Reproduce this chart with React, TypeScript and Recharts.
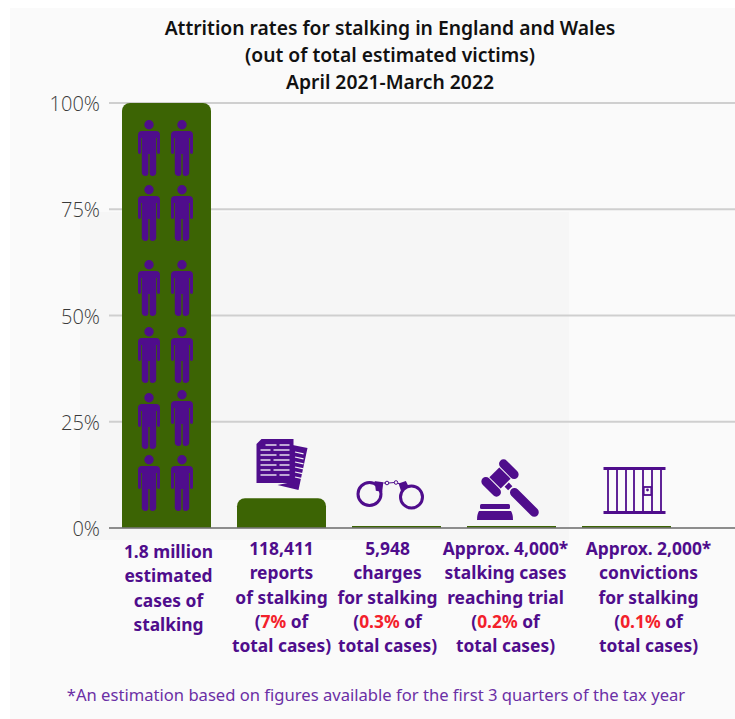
import { BarChart, Bar, XAxis, YAxis, CartesianGrid, Rectangle } from "recharts";

const CATEGORIES = ["Estimated cases", "Reports", "Charges", "Trials", "Convictions"];
const SHARE_OF_CASES = [100, 7, 0.3, 0.2, 0.1];
const Y_TICKS = [0, 25, 50, 75, 100];

const TITLE_LINES = [
  "Attrition rates for stalking in England and Wales",
  "(out of total estimated victims)",
  "April 2021-March 2022",
];

const TICK_LINES = [
  ["1.8 million", "estimated", "cases of", "stalking"],
  ["118,411", "reports", "of stalking", "(7% of", "total cases)"],
  ["5,948", "charges", "for stalking", "(0.3% of", "total cases)"],
  ["Approx. 4,000*", "stalking cases", "reaching trial", "(0.2% of", "total cases)"],
  ["Approx. 2,000*", "convictions", "for stalking", "(0.1% of", "total cases)"],
];

const FOOTNOTE = "*An estimation based on figures available for the first 3 quarters of the tax year";

const GREEN = "#3c6404";
const PURPLE = "#4f0d8c";
const FONT = '"Noto Sans", sans-serif';

// label placement under each bar: horizontal shift from the bar centre, first line y
const TICK_SHIFT = [2, 0, -9, -6, 22];
const TICK_TOP = [552, 549, 549, 549, 549];

// pictogram rows/columns on the tall bar, offsets from the bar's top-left corner
const PERSON_ROWS = [
  [17, 82, 157, 224, 290, 352],
  [17, 82, 157, 224, 287, 352],
];
const PERSON_COLS = [27, 60];

function Person({ x, y }: { x: number; y: number }) {
  return (
    <g transform={`translate(${x},${y})`} fill={PURPLE}>
      <circle cx={0} cy={4.7} r={4.7} />
      <path d="M-7,11 Q-11,11 -11,15 L-11,32 Q-11,34 -9.5,34 Q-8,34 -8,32 L-8,18 L-7.2,18 L-7.2,53 Q-6.6,56 -3.5,56 Q-0.7,56 -0.7,53 L-0.7,34 L0.7,34 L0.7,53 Q0.7,56 3.5,56 Q6.6,56 7.2,53 L7.2,18 L8,18 L8,32 Q8,34 9.5,34 Q11,34 11,32 L11,15 Q11,11 7,11 Z" />
    </g>
  );
}

function DocumentsIcon({ cx, base }: { cx: number; base: number }) {
  const rows = [7, 12, 17, 22, 27, 32, 37];
  return (
    <g transform={`translate(${cx - 25},${base - 90})`}>
      <path d="M36,7 L51,10 L42,52 L21,47 L36,44 Z" fill={PURPLE} />
      {[14, 19, 24, 29, 34, 39].map((v) => (
        <line key={v} x1={38.5} y1={v} x2={47} y2={v + 1.8} stroke="#f5f5f5" strokeWidth={1.2} />
      ))}
      <path d="M5,1 L37,1 L37,45 L0,45 L0,6 Z" fill={PURPLE} />
      {rows.map((v, i) => (
        <g key={v} stroke="#f0ecf5" strokeWidth={1.4}>
          <line x1={i === 0 ? 9 : 4} y1={v} x2={i % 2 ? 14 : 20} y2={v} />
          <line x1={i % 2 ? 17 : 23} y1={v} x2={33} y2={v} />
        </g>
      ))}
    </g>
  );
}

function HandcuffsIcon({ cx, base }: { cx: number; base: number }) {
  return (
    <g transform={`translate(${cx},${base - 34})`} fill="none" stroke={PURPLE}>
      <circle cx={-27} cy={0} r={11.5} strokeWidth={3} />
      <circle cx={15} cy={3} r={11} strokeWidth={3} />
      <path d="M-21,-12 L-14,-11 L-15,-3 L-20,-4 Z" fill={PURPLE} strokeWidth={1.5} />
      <path d="M3,-10 L9,-12 L11,-8 L5,-4 Z" fill={PURPLE} strokeWidth={1.5} />
      <circle cx={-9.5} cy={-11} r={1.8} strokeWidth={1} />
      <circle cx={-0.5} cy={-11.5} r={1.8} strokeWidth={1} />
      <path d="M-13,-11 L-11,-11 M-8,-11 L-2,-11.5 M1,-11 L3,-10" strokeWidth={1} />
    </g>
  );
}

function GavelIcon({ cx, base }: { cx: number; base: number }) {
  return (
    <g fill={PURPLE}>
      <g transform={`translate(${cx - 11.5},${base - 50}) rotate(45)`}>
        <rect x={-12} y={-17} width={24} height={9} rx={4.5} />
        <rect x={-12} y={8} width={24} height={9} rx={4.5} />
        <rect x={-8} y={-7} width={16} height={14} />
        <rect x={9.5} y={-3} width={5} height={6} />
        <rect x={16} y={-4.5} width={37} height={9} rx={4.5} />
      </g>
      <rect x={cx - 31.5} y={base - 24} width={30} height={5} rx={1.5} />
      <path d={`M${cx - 32.5},${base - 17} L${cx - 0.5},${base - 17} Q${cx + 1.5},${base - 14} ${cx + 1.5},${base - 8} L${cx - 34.5},${base - 8} Q${cx - 34.5},${base - 14} ${cx - 32.5},${base - 17} Z`} />
    </g>
  );
}

function CellIcon({ cx, base }: { cx: number; base: number }) {
  const bars = [-18.5, -9.5, -0.5, 7.5, 16.5, 25.5, 34.5];
  return (
    <g transform={`translate(${cx},${base})`}>
      <rect x={-23} y={-61} width={62} height={3} fill={PURPLE} />
      <rect x={-23} y={-17} width={62} height={3} fill={PURPLE} />
      {bars.map((b) => (
        <rect key={b} x={b - 0.9} y={-59} width={1.8} height={43} fill={PURPLE} />
      ))}
      <rect x={17.2} y={-41} width={7.6} height={8} fill="#fafafa" stroke={PURPLE} strokeWidth={1.8} />
      <circle cx={21} cy={-38} r={1.4} fill={PURPLE} />
    </g>
  );
}

function BarWithIcon(props: any) {
  const { x, y, width, height, index } = props;
  const cx = x + width / 2;
  const base = y + height;
  return (
    <g>
      <Rectangle x={x} y={y} width={width} height={height} fill={GREEN} radius={height > 8 ? [8, 8, 0, 0] : 0} />
      {index === 0 &&
        PERSON_COLS.map((col, c) =>
          PERSON_ROWS[c].map((row) => <Person key={`${c}-${row}`} x={x + col} y={y + row} />)
        )}
      {index === 1 && <DocumentsIcon cx={cx} base={base} />}
      {index === 2 && <HandcuffsIcon cx={cx} base={base} />}
      {index === 3 && <GavelIcon cx={cx} base={base} />}
      {index === 4 && <CellIcon cx={cx} base={base} />}
    </g>
  );
}

function CategoryTick(props: any) {
  const { x, payload } = props;
  const i = payload.index;
  const shifted = x + TICK_SHIFT[i];
  return (
    <text textAnchor="middle" fontFamily={FONT} fontSize={17.4} fontWeight={700} fill={PURPLE}>
      {TICK_LINES[i].map((line, n) => {
        const parts = line.match(/^\((.*%)( of)$/);
        return (
          <tspan key={n} x={shifted} y={TICK_TOP[i] + 6 + n * 24.3}>
            {parts ? (
              <>
                (<tspan fill="#f3212b">{parts[1]}</tspan>
                {parts[2]}
              </>
            ) : (
              line
            )}
          </tspan>
        );
      })}
    </text>
  );
}

const chartData = CATEGORIES.map((name, i) => ({ name, share: SHARE_OF_CASES[i] }));

export default function App() {
  return (
    <div style={{ position: "absolute", left: 0, top: 0, width: 735, height: 719, overflow: "hidden", background: "#fff" }}>
      <div style={{ position: "absolute", left: 10, top: 8, right: 0, bottom: 0, background: "#fafafa" }} />
      <div style={{ position: "absolute", left: 80, top: 212, width: 489, height: 328, background: "#f6f6f6" }} />
      <div
        style={{
          position: "absolute",
          left: 90,
          top: 14,
          width: 600,
          textAlign: "center",
          fontFamily: FONT,
          fontWeight: 600,
          fontSize: 19.3,
          lineHeight: "27px",
          color: "#111",
        }}
      >
        {TITLE_LINES.map((t) => (
          <div key={t}>{t}</div>
        ))}
      </div>
      <div style={{ position: "absolute", left: 0, top: 0 }}>
        <BarChart width={735} height={719} data={chartData} margin={{ top: 103, right: 0, bottom: 0, left: 9 }}>
          <CartesianGrid vertical={false} stroke="#cfcfcf" strokeWidth={2} />
          <XAxis
            dataKey="name"
            height={191}
            interval={0}
            padding={{ left: 0, right: 51 }}
            tick={<CategoryTick />}
            tickLine={false}
            stroke="#777"
            strokeWidth={1.5}
          />
          <YAxis
            domain={[0, 100]}
            ticks={Y_TICKS}
            width={100}
            axisLine={false}
            tickLine={false}
            tickMargin={3}
            tickFormatter={(v) => `${v}%`}
            tick={{ fontSize: 20, dy: 1, fontFamily: '"Open Sans", sans-serif', fontWeight: 300, fill: "#3a3a3a" }}
          />
          <Bar dataKey="share" barSize={89} minPointSize={2} shape={<BarWithIcon />} isAnimationActive={false} />
        </BarChart>
      </div>
      <div
        style={{
          position: "absolute",
          left: 0,
          top: 683,
          width: 752,
          textAlign: "center",
          fontFamily: FONT,
          fontSize: 16.6,
          color: "#6b2fa5",
          whiteSpace: "nowrap",
        }}
      >
        {FOOTNOTE}
      </div>
    </div>
  );
}
